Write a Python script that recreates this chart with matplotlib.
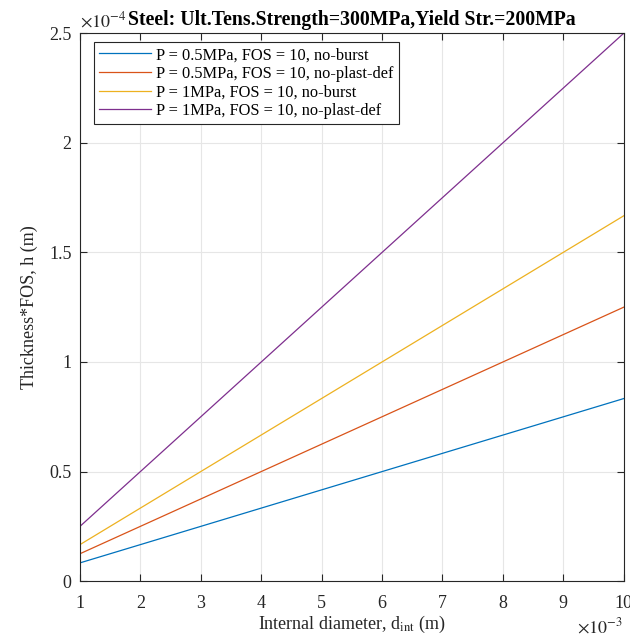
import matplotlib
matplotlib.use("Agg")
import matplotlib.pyplot as plt
from matplotlib.ticker import FuncFormatter, MultipleLocator

plt.rcParams['font.family'] = ['Liberation Serif', 'DejaVu Serif']
plt.rcParams['mathtext.fontset'] = 'stix'

# Data (internal diameter in m, thickness*FOS in m)
d_int = [0.001, 0.010]
h_p05_burst = [8.33e-6, 8.33e-5]
h_p05_plast = [1.25e-5, 1.25e-4]
h_p1_burst = [1.667e-5, 1.667e-4]
h_p1_plast = [2.5e-5, 2.5e-4]

labels = ["P = 0.5MPa, FOS = 10, no-burst",
          "P = 0.5MPa, FOS = 10, no-plast-def",
          "P = 1MPa, FOS = 10, no-burst",
          "P = 1MPa, FOS = 10, no-plast-def"]
colors = ['#0072BD', '#D95319', '#EDB120', '#7E2F8E']

fig = plt.figure(figsize=(6.3, 6.4), dpi=100)
ax = fig.add_axes([0.127, 0.092, 0.863, 0.856])

for y, lab, c in zip([h_p05_burst, h_p05_plast, h_p1_burst, h_p1_plast], labels, colors):
    ax.plot(d_int, y, color=c, lw=0.9, label=lab)

ax.set_xlim(0.001, 0.010)
ax.set_ylim(0, 2.5e-4)
ax.xaxis.set_major_locator(MultipleLocator(0.001))
ax.yaxis.set_major_locator(MultipleLocator(0.5e-4))
ax.xaxis.set_major_formatter(FuncFormatter(lambda v, p: '%g' % round(v / 1e-3, 6)))
ax.yaxis.set_major_formatter(FuncFormatter(lambda v, p: '%g' % round(v / 1e-4, 6)))

ax.grid(True, color='#e6e6e6', lw=0.8)
ax.set_axisbelow(True)
ax.tick_params(direction='in', top=True, right=True, labelsize=13, colors='#262626',
               length=5, width=0.8)
ax.tick_params(axis='x', pad=10)
ax.tick_params(axis='y', pad=6)
for s in ax.spines.values():
    s.set_color('#262626')
    s.set_linewidth(0.8)

ax.set_xlabel(r"Internal diameter, d$_{\mathrm{int}}$ (m)", fontsize=13, color='#262626', labelpad=1)
ax.set_ylabel("Thickness*FOS, h (m)", fontsize=13, color='#262626', labelpad=8)
ax.set_title("Steel: Ult.Tens.Strength=300MPa,Yield Str.=200MPa", fontsize=14.2,
             fontweight='bold', pad=6)

ax.text(0.0, 1.005, r"$\times10^{-4}$", transform=ax.transAxes, fontsize=13,
        ha='left', va='bottom', color='#262626')
fig.text(0.989, 0.011, r"$\times10^{-3}$", fontsize=13,
         ha='right', va='baseline', color='#262626')

leg = ax.legend(loc='upper left', bbox_to_anchor=(0.0257, 0.9836), borderaxespad=0,
                fontsize=11.8, fancybox=False, framealpha=1,
                edgecolor='#262626', handlelength=3.2, handletextpad=0.3,
                labelspacing=0.16, borderpad=0.3)
leg.get_frame().set_linewidth(0.8)

fig.savefig("out.png", dpi=100)
